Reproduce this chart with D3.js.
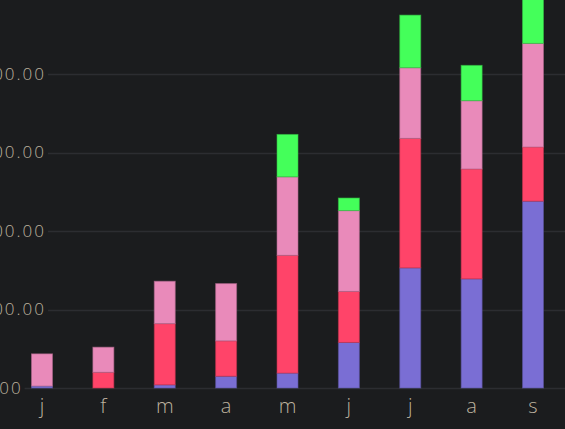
<!DOCTYPE html>
<html>
<head>
<meta charset="utf-8">
<script src="https://cdn.jsdelivr.net/npm/d3@7"></script>
<style>
  html, body { margin: 0; padding: 0; background: #1b1c1e; overflow: hidden; }
  svg { display: block; }
</style>
</head>
<body>
<svg id="chart" width="565" height="429"></svg>
<script>
const categories = ["j", "f", "m", "a", "m", "j", "j", "a", "s"];
const seriesNames = ["s1", "s2", "s3", "s4"];
const s1 = [2.5, 0, 4, 15, 19, 58, 153, 139, 238];
const s2 = [0, 20, 78, 45, 150, 65, 165, 140, 69];
const s3 = [41, 32, 54, 73, 100, 103, 90, 87, 132];
const s4 = [0, 0, 0, 0, 54, 16, 67, 45, 70];
const colors = ["#7a6ed4", "#ff4469", "#e98aba", "#44ff5a"];
const yTicks = [0, 100, 200, 300, 400];

const W = 565, H = 429;
const svg = d3.select("#chart");
svg.append("rect").attr("width", W).attr("height", H).attr("fill", "#1b1c1e");

const rows = categories.map((c, i) => ({ idx: i, cat: c, s1: s1[i], s2: s2[i], s3: s3[i], s4: s4[i] }));
const stack = d3.stack().keys(seriesNames)(rows);

const x = d3.scaleBand().domain(d3.range(categories.length))
  .range([11.3, 563.7]).paddingInner(0.658).paddingOuter(0.329);
const y = d3.scaleLinear().domain([0, 400]).range([388, 74]);

const fmt = d3.format(".2f");
const textColor = "#bdb29f";

// y labels (left aligned, partially off-canvas as in the reference crop)
const gY = svg.append("g");
const labels = gY.selectAll("text").data(yTicks).join("text")
  .attr("y", d => y(d))
  .attr("dy", "0.35em")
  .attr("fill", textColor)
  .attr("font-family", "'Open Sans', sans-serif")
  .attr("font-weight", 300)
  .attr("font-size", 17)
  .attr("letter-spacing", 2)
  .text(d => fmt(d));
let maxW = 0;
labels.each(function () { maxW = Math.max(maxW, this.getComputedTextLength()); });
const startX = 46 - maxW;
labels.attr("x", startX);
labels.each(function (d) {
  const end = startX + this.getComputedTextLength();
  gY.insert("line", "text")
    .attr("x1", end + 2).attr("x2", W)
    .attr("y1", Math.round(y(d)) + 0.5).attr("y2", Math.round(y(d)) + 0.5)
    .attr("stroke", "#2c2d31").attr("stroke-width", 1.5);
});

// bars
svg.append("g").selectAll("g").data(stack).join("g")
  .attr("fill", (d, i) => colors[i])
  .attr("stroke", (d, i) => d3.color(colors[i]).darker(0.8))
  .attr("stroke-opacity", 0.6)
  .attr("stroke-width", 1)
  .selectAll("rect").data(d => d.filter(p => p[1] - p[0] > 0)).join("rect")
  .attr("x", d => x(d.data.idx))
  .attr("width", x.bandwidth())
  .attr("y", d => y(d[1]))
  .attr("height", d => y(d[0]) - y(d[1]));

// x labels
svg.append("g").selectAll("text").data(categories).join("text")
  .attr("x", (d, i) => x(i) + x.bandwidth() / 2)
  .attr("y", 413)
  .attr("text-anchor", "middle")
  .attr("fill", textColor)
  .attr("font-family", "'Open Sans', sans-serif")
  .attr("font-weight", 300)
  .attr("font-size", 20)
  .text(d => d);
</script>
</body>
</html>
